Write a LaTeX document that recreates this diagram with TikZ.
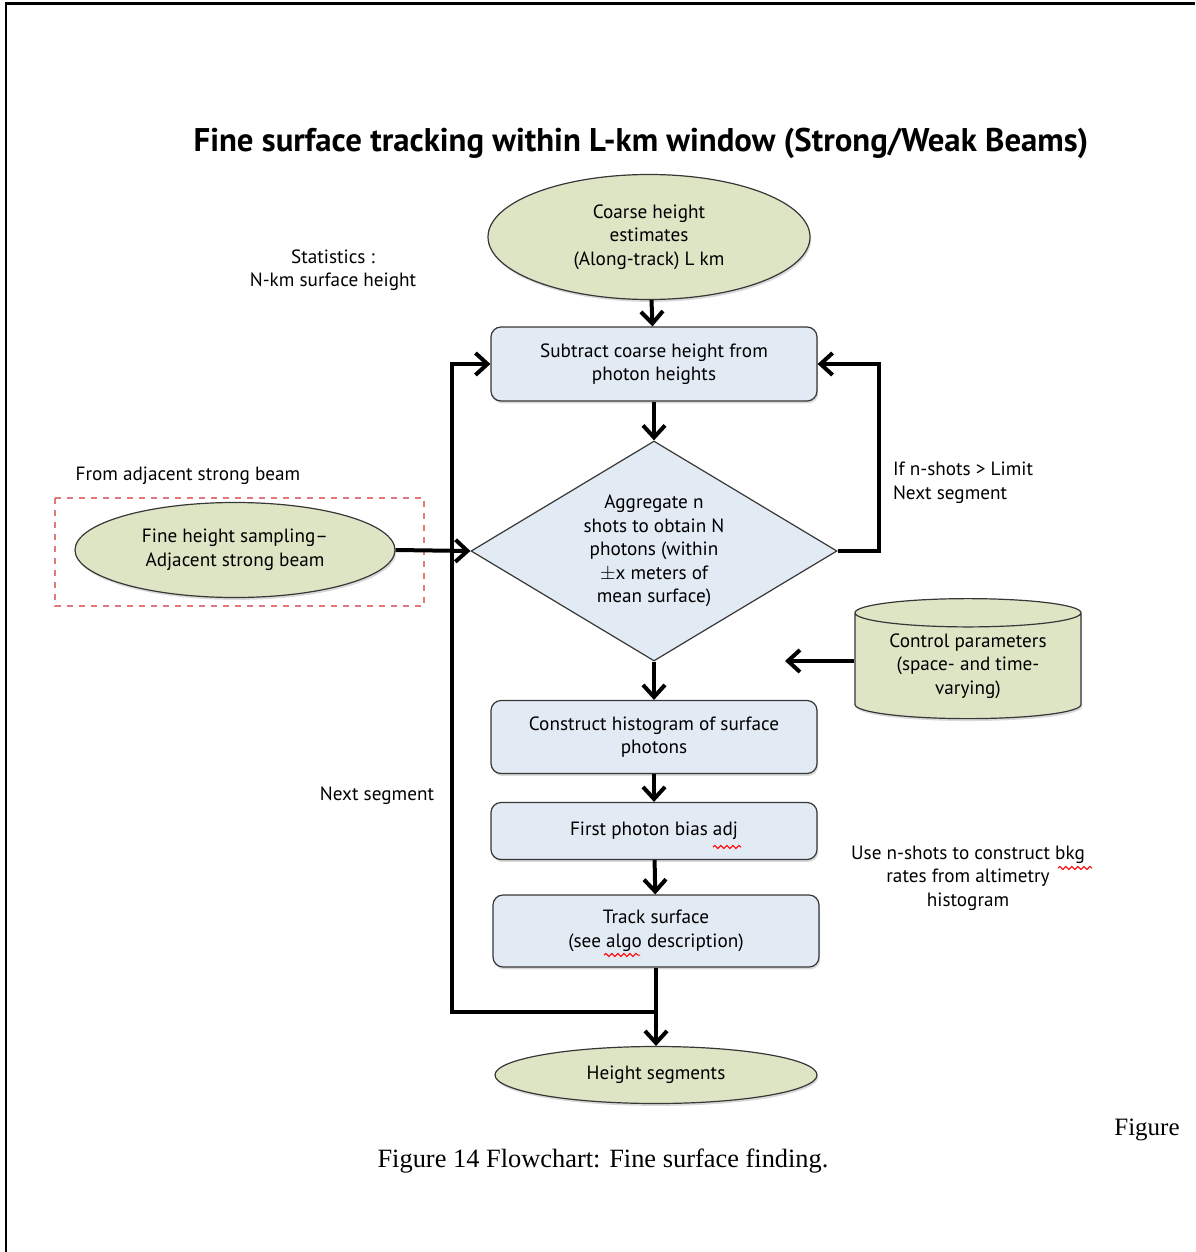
\documentclass[tikz,border=0pt]{standalone}
\usepackage{fontspec}
\setmainfont{PT Sans}
\newfontfamily\capfont{Liberation Serif}
\usepackage{xcolor}
\usetikzlibrary{arrows.meta}
\usetikzlibrary{shapes.geometric}
\usetikzlibrary{shadows}
\usetikzlibrary{decorations.pathmorphing}

\definecolor{ovalgreen}{RGB}{222,229,197}
\definecolor{boxblue}{RGB}{226,234,244}
\definecolor{edgegray}{RGB}{55,55,55}
\definecolor{dashred}{RGB}{226,120,120}
\newcommand{\flowfont}{\fontsize{9.6}{11.8}\selectfont}

\begin{document}
\begin{tikzpicture}[x=0.5pt, y=-0.5pt,
	every node/.style={font=\flowfont, align=center},
	softshadow/.style={drop shadow={opacity=0.3, shadow xshift=0.6pt, shadow yshift=-1.2pt}},
	oval/.style={ellipse, draw=edgegray, line width=0.6pt, fill=ovalgreen, inner sep=0pt, softshadow},
	stepbox/.style={rectangle, rounded corners=5pt, draw=edgegray, line width=0.6pt, fill=boxblue,
		minimum width=163pt, inner sep=0pt, softshadow},
	decide/.style={diamond, aspect=1.66, draw=edgegray, line width=0.6pt, fill=boxblue, inner sep=0pt,
		minimum width=183pt, minimum height=110pt},
	store/.style={cylinder, shape border rotate=90, aspect=0.18, draw=edgegray, line width=0.6pt,
		fill=ovalgreen, minimum width=113pt, minimum height=60pt, inner sep=0pt, softshadow},
	flow/.style={-{Straight Barb[length=6pt, width=11pt]}, line width=2pt},
	squiggle/.style={red, line width=0.5pt, decorate,
		decoration={snake, amplitude=0.8pt, segment length=3pt}}]
	\useasboundingbox (0,0) rectangle (1195,1252);
	%
	%Rahmen
	\draw[line width=1.5pt] (5,4) -- (1195,4);
	\draw[line width=1pt] (6,4) -- (6,1252);
	%
	%Titel
	\node (title) at (641,143) {\fontsize{16.4}{19}\selectfont\bfseries Fine surface tracking within L-km window (Strong/Weak Beams)};
	%
	%Coarse height
	\node[oval, minimum width=161pt, minimum height=62.5pt] (coarse) at (649,237) {Coarse height\\ estimates\\ (Along-track) L km};
	\node (stats) at (333,270) {Statistics :\\ N-km surface height};
	%
	%Subtract
	\node[stepbox, minimum height=37pt] (sub) at (654,364) {Subtract coarse height from\\ photon heights};
	%
	%Aggregate
	\node[decide] (agg) at (654,551) {Aggregate n\\ shots to obtain N\\ photons (within\\ $\pm$x meters of\\ mean surface)};
	\node[anchor=west, align=left] (limit) at (886,483) {If n-shots > Limit\\ Next segment};
	%
	%Adjacent strong beam
	\node (adjlabel) at (188,476) {From adjacent strong beam};
	\draw[dashred, dashed, line width=0.6pt] (55,498) rectangle (424,606);
	\node[oval, minimum width=160pt, minimum height=47.5pt] (fine) at (235,550) {Fine height sampling--\\ Adjacent strong beam};
	%
	%Control parameters
	\node[store] (ctrl) at (968,666) {Control parameters\\ (space- and time-\\ varying)};
	\coordinate (ctrlend) at (785,661);
	%
	%Histogram
	\node[stepbox, minimum height=36.5pt] (hist) at (654,737) {Construct histogram of surface\\ photons};
	%
	%First photon bias
	\node[stepbox, minimum height=28.5pt] (bias) at (654,831) {First photon bias adj};
	\node (bkg) at (968,878) {Use n-shots to construct bkg\\ rates from altimetry\\ histogram};
	%
	%Track surface
	\node[stepbox, minimum height=36pt] (track) at (656,931) {Track surface\\ (see algo description)};
	\node (nextseg) at (377,796) {Next segment};
	%
	%Height segments
	\node[oval, minimum width=161pt, minimum height=28.5pt] (hseg) at (656,1075) {Height segments};
	\coordinate (merge) at (656,1012);
	%
	%Pfeile
	\draw[flow] (coarse) -- (sub);
	\draw[flow] (sub) -- (agg);
	\draw[flow] (agg.east) -- ++(41,0) |- (sub.east);
	\draw[flow] (fine.east) -- (agg.west);
	\draw[flow] (ctrl.west |- ctrlend) -- (ctrlend);
	\draw[flow] (agg.south) -- (hist.north);
	\draw[flow] (hist) -- (bias);
	\draw[flow] (bias) -- (track);
	\draw[flow] (track) -- (hseg);
	\draw[flow] (merge) -- ++(-204,0) |- (sub.west);
	%
	%Rechtschreibung
	\draw[squiggle] (713,847) -- (741,847);
	\draw[squiggle] (604,955) -- (640,955);
	\draw[squiggle] (1058,868) -- (1092,868);
	%
	%Bildunterschrift
	\node[font=\capfont\fontsize{12.5}{15}\selectfont] (figword) at (1147,1130) {Figure};
	\node[font=\capfont\fontsize{13.2}{15}\selectfont] (caption) at (603,1161) {Figure 14 Flowchart: Fine surface finding.};
\end{tikzpicture}
\end{document}
